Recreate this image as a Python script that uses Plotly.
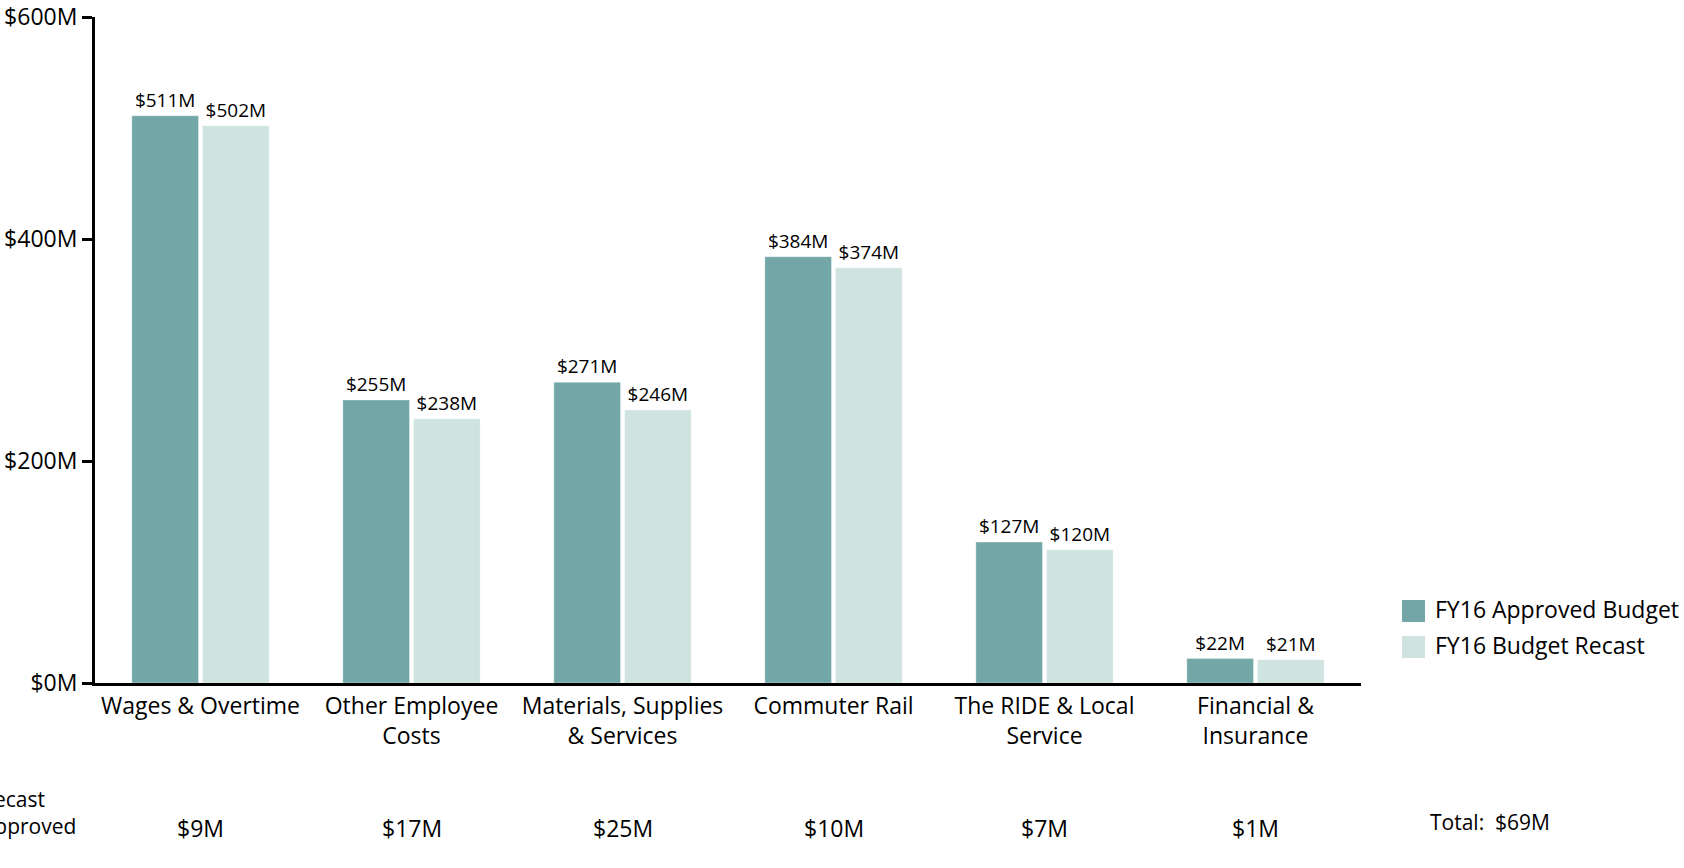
import plotly.graph_objects as go

# FY16 operating budget by expense category ($M)
categories = [
    "Wages & Overtime",
    "Other Employee<br>Costs",
    "Materials, Supplies<br>& Services",
    "Commuter Rail",
    "The RIDE & Local<br>Service",
    "Financial &<br>Insurance",
]
approved = [511, 255, 271, 384, 127, 22]
recast = [502, 238, 246, 374, 120, 21]

y_ticks = [0, 200, 400, 600]
y_tick_labels = ["$0M", "$200M", "$400M", "$600M"]

series_names = ["FY16 Approved Budget", "FY16 Budget Recast"]
series_colors = ["#73A6A6", "#CFE3E0"]

FONT = "Open Sans"
W, H = 1684, 868
M_L, M_R, M_T, M_B = 95, 323, 17, 185
plot_w = W - M_L - M_R
plot_h = H - M_T - M_B

fig = go.Figure()
for name, vals, color in zip(series_names, [approved, recast], series_colors):
    fig.add_trace(go.Bar(
        x=categories,
        y=vals,
        name=name,
        marker=dict(color=color, line=dict(color="rgba(255,255,255,0.35)", width=1)),
        text=[f"${v}M" for v in vals],
        textposition="outside",
        textfont=dict(family=FONT, size=19, color="#000000"),
        cliponaxis=False,
        showlegend=False,
    ))

# Variance row beneath the category labels
diffs = [a - r for a, r in zip(approved, recast)]
for cat, d in zip(categories, diffs):
    fig.add_annotation(
        x=cat, xref="x", y=0, yref="paper",
        yanchor="middle", yshift=-145,
        text=f"${d}M", showarrow=False,
        font=dict(family=FONT, size=23, color="#000000"),
    )

fig.add_annotation(
    x=(1428 - M_L) / plot_w, xref="paper", y=0, yref="paper",
    xanchor="left", yanchor="middle", yshift=-139,
    text=f"Total:  ${sum(diffs)}M", showarrow=False,
    font=dict(family=FONT, size=21, color="#000000"),
)

# Row heading, anchored by its right edge at the page's left border
fig.add_annotation(
    x=(78 - M_L) / plot_w, xref="paper", y=0, yref="paper",
    xanchor="right", yanchor="middle", yshift=-129, align="left",
    text="Recast<br>Approved", showarrow=False,
    font=dict(family=FONT, size=21, color="#000000"),
)

# Legend drawn as swatches with labels
for i, (name, color) in enumerate(zip(series_names, series_colors)):
    cy = 611 + 36 * i
    x0 = (1402 - M_L) / plot_w
    x1 = (1425 - M_L) / plot_w
    y0 = (H - M_B - (cy + 11)) / plot_h
    y1 = (H - M_B - (cy - 11)) / plot_h
    fig.add_shape(type="rect", xref="paper", yref="paper",
                  x0=x0, x1=x1, y0=y0, y1=y1,
                  fillcolor=color, line=dict(width=0))
    fig.add_annotation(
        x=(1433 - M_L) / plot_w, xref="paper",
        y=(H - M_B - cy + 2) / plot_h, yref="paper",
        xanchor="left", yanchor="middle",
        text=name, showarrow=False,
        font=dict(family=FONT, size=23, color="#000000"),
    )

fig.update_layout(
    width=W, height=H,
    margin=dict(l=M_L, r=M_R, t=M_T, b=M_B, pad=0, autoexpand=False),
    paper_bgcolor="white", plot_bgcolor="white",
    barmode="group", bargap=0.33, bargroupgap=0.057,
    font=dict(family=FONT, size=23, color="#000000"),
    showlegend=False,
)
fig.update_xaxes(
    showline=True, linecolor="#000000", linewidth=3,
    ticks="", showgrid=False, zeroline=False, automargin=False,
    range=[-0.5, 5.5],
    tickfont=dict(family=FONT, size=23, color="#000000"),
)
fig.update_yaxes(
    range=[0, 600], tickvals=y_ticks, ticktext=y_tick_labels,
    showline=True, linecolor="#000000", linewidth=3,
    ticks="outside", ticklen=10, tickwidth=3, tickcolor="#000000",
    showgrid=False, zeroline=False, automargin=False,
    ticklabeloverflow="allow",
    tickfont=dict(family=FONT, size=23, color="#000000"),
)

fig.write_html("out.html")
